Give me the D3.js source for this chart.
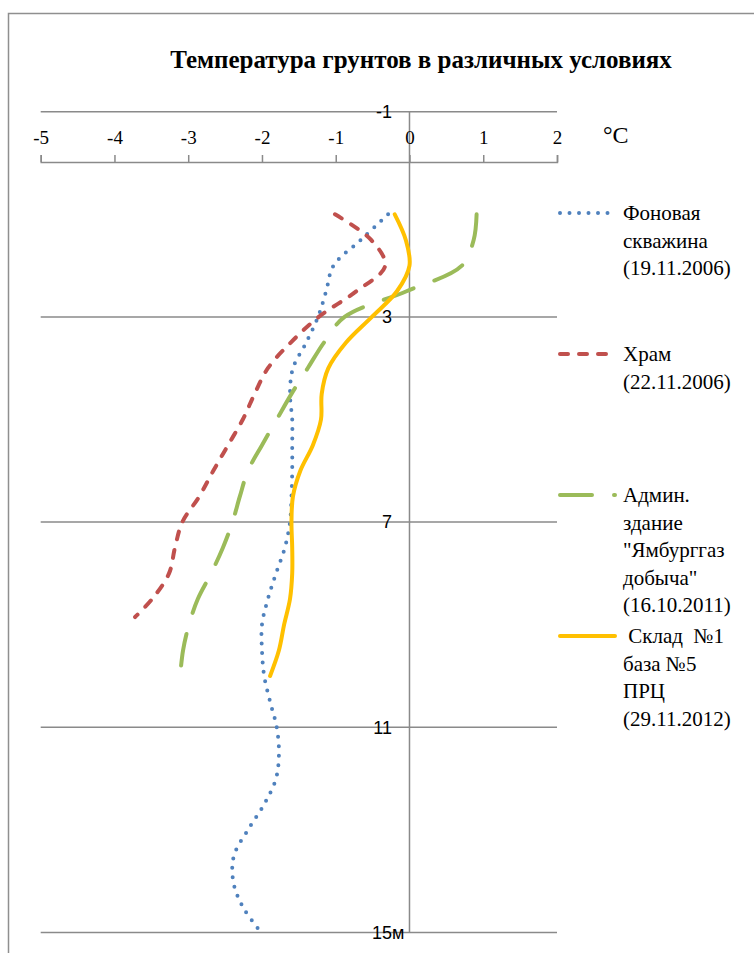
<!DOCTYPE html>
<html>
<head>
<meta charset="utf-8">
<script src="https://cdn.jsdelivr.net/npm/d3@7"></script>
<style>
  html, body { margin: 0; padding: 0; background: #fff; }
  svg { display: block; }
  .serif { font-family: 'Liberation Serif', 'Times New Roman', 'DejaVu Serif', serif; }
  .sans { font-family: 'Liberation Sans', Arial, 'DejaVu Sans', sans-serif; }
</style>
</head>
<body>
<svg id="chart" width="754" height="953"></svg>
<script>
// ---- data ----
const title = "Температура грунтов в различных условиях";
const xTicks = [-5, -4, -3, -2, -1, 0, 1, 2];
const yTicks = [-1, 3, 7, 11, 15];
const yTickLabels = ["-1", "3", "7", "11", "15"];
const yUnit = "м";
const xUnit = "°С";

const seriesNames = [
  ["Фоновая", "скважина", "(19.11.2006)"],
  ["Храм", "(22.11.2006)"],
  ["Админ.", "здание", "\"Ямбурггаз", "добыча\"", "(16.10.2011)"],
  [" Склад  №1", "база №5", "ПРЦ", "(29.11.2012)"]
];

const depthFon = [1,1.5,2,2.5,3,3.5,4,4.5,5,5.5,6,6.5,7,7.5,8,8.5,9,9.5,10,10.5,11,11.5,12,12.5,13,13.5,14,14.5,15];
const tempFon  = [-0.29,-0.66,-1.03,-1.13,-1.24,-1.40,-1.58,-1.62,-1.59,-1.59,-1.59,-1.60,-1.62,-1.69,-1.81,-1.92,-2.00,-2.00,-1.97,-1.89,-1.80,-1.77,-1.81,-1.97,-2.19,-2.38,-2.39,-2.26,-2.01];

const depthKhram = [1,1.5,2,2.5,3,3.5,4,4.5,5,5.5,6,6.5,7,7.5,8,8.5,8.85];
const tempKhram  = [-1.01,-0.52,-0.33,-0.72,-1.23,-1.61,-1.92,-2.10,-2.26,-2.46,-2.66,-2.85,-3.08,-3.18,-3.26,-3.49,-3.72];

const depthAdmin = [1,1.5,2,2.5,3,3.5,4,4.5,5,5.5,6,6.5,7,7.5,8,8.5,9,9.5,10];
const tempAdmin  = [0.91,0.87,0.71,-0.04,-0.88,-1.16,-1.38,-1.60,-1.80,-2.00,-2.19,-2.30,-2.40,-2.53,-2.69,-2.87,-2.99,-3.07,-3.11];

const depthSklad = [1,1.5,2,2.5,3,3.5,4,4.5,5,5.5,6,6.5,7,7.5,8,8.5,9,9.5,10];
const tempSklad  = [-0.20,-0.05,0.00,-0.17,-0.51,-0.86,-1.10,-1.19,-1.20,-1.31,-1.48,-1.58,-1.60,-1.59,-1.59,-1.62,-1.70,-1.77,-1.89];

// ---- styles ----
const styles = [
  { color: "#4F81BD", width: 4, dash: "0,9.5", cap: "round" },
  { color: "#C0504D", width: 4, dash: "8,11", cap: "round" },
  { color: "#9BBB59", width: 4, dash: "32,22", cap: "round" },
  { color: "#FFC000", width: 4, dash: null, cap: "round" }
];
const series = [
  { depth: depthFon, temp: tempFon },
  { depth: depthKhram, temp: tempKhram },
  { depth: depthAdmin, temp: tempAdmin },
  { depth: depthSklad, temp: tempSklad }
];

const svg = d3.select("#chart");
const gridColor = "#8a8a8a";

// border
svg.append("rect")
  .attr("x", 8.5).attr("y", 13.5)
  .attr("width", 800).attr("height", 1000)
  .attr("fill", "none").attr("stroke", "#8f8f8f").attr("stroke-width", 1.5);

const x = d3.scaleLinear().domain([-5, 2]).range([40.7, 557]);
const y = d3.scaleLinear().domain([-1, 15]).range([111.7, 932.5]);

// title
svg.append("text")
  .attr("class", "serif")
  .attr("x", 421).attr("y", 68)
  .attr("text-anchor", "middle")
  .attr("font-weight", "bold")
  .attr("font-size", 25)
  .attr("fill", "#000")
  .text(title);

// horizontal grid lines
svg.append("g").selectAll("line").data(yTicks).join("line")
  .attr("x1", x(-5)).attr("x2", x(2))
  .attr("y1", d => y(d)).attr("y2", d => y(d))
  .attr("stroke", gridColor).attr("stroke-width", 1.5);

// vertical zero line
svg.append("line")
  .attr("x1", x(0)).attr("x2", x(0))
  .attr("y1", y(-1)).attr("y2", y(15))
  .attr("stroke", gridColor).attr("stroke-width", 1.5);

// top x axis
const xAxis = d3.axisTop(x).tickValues(xTicks).tickFormat(d => String(d))
  .tickSize(7).tickPadding(11);
const gx = svg.append("g").attr("transform", "translate(0,162)").call(xAxis)
  .attr("font-family", null).attr("font-size", null);
gx.selectAll("path, line").attr("stroke", gridColor).attr("stroke-width", 1.5);
gx.selectAll("text")
  .attr("class", "serif")
  .attr("font-size", 19).attr("fill", "#000");

// unit °С
svg.append("text")
  .attr("class", "serif")
  .attr("x", 603).attr("y", 143)
  .attr("font-size", 24).attr("fill", "#000")
  .text(xUnit);

// depth labels
const yl = svg.append("g");
yl.selectAll("text").data(yTicks).join("text")
  .attr("class", "sans")
  .attr("x", 392).attr("y", d => y(d))
  .attr("dy", "0.35em")
  .attr("text-anchor", "end")
  .attr("font-size", 18).attr("fill", "#000")
  .text((d, i) => yTickLabels[i]);
svg.append("text")
  .attr("class", "sans")
  .attr("x", 392).attr("y", y(15)).attr("dy", "0.35em")
  .attr("font-size", 18).attr("fill", "#000")
  .text(yUnit);

// curves
const line = d3.line()
  .x(d => x(d[1]))
  .y(d => y(d[0]))
  .curve(d3.curveCatmullRom.alpha(0.5));

series.forEach((s, i) => {
  const pts = s.depth.map((dv, j) => [dv, s.temp[j]]);
  const st = styles[i];
  svg.append("path")
    .datum(pts)
    .attr("d", line)
    .attr("fill", "none")
    .attr("stroke", st.color)
    .attr("stroke-width", st.width)
    .attr("stroke-linecap", st.cap)
    .attr("stroke-linejoin", "round")
    .attr("stroke-dasharray", st.dash);
});

// legend
const legendTop = 213, legendStep = 141, lineH = 27.5;
const lg = svg.append("g");
seriesNames.forEach((lines, i) => {
  const st = styles[i];
  const y0 = legendTop + i * legendStep;
  lg.append("line")
    .attr("x1", 560).attr("x2", 615)
    .attr("y1", y0).attr("y2", y0)
    .attr("stroke", st.color)
    .attr("stroke-width", st.width)
    .attr("stroke-linecap", st.cap)
    .attr("stroke-dasharray", st.dash);
  const t = lg.append("text")
    .attr("class", "serif")
    .attr("x", 623).attr("y", y0)
    .attr("font-size", 21).attr("fill", "#000")
    .style("white-space", "pre");
  lines.forEach((ln, k) => {
    t.append("tspan").attr("x", 623).attr("y", y0 + k * lineH).attr("dy", "0.35em").text(ln);
  });
});
</script>
</body>
</html>
